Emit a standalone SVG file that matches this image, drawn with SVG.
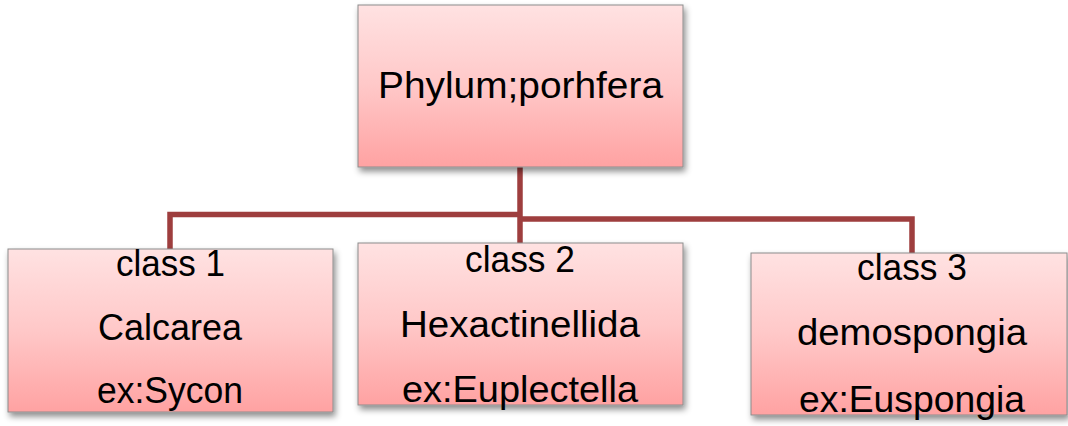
<svg xmlns="http://www.w3.org/2000/svg" width="1068" height="426" viewBox="0 0 1068 426">
  <defs>
    <linearGradient id="boxFill" x1="0" y1="0" x2="0" y2="1">
      <stop offset="0" stop-color="#ffe2e2"/>
      <stop offset="0.5" stop-color="#ffc8c8"/>
      <stop offset="1" stop-color="#ffa2a2"/>
    </linearGradient>
    <filter id="shadow" x="-10%" y="-10%" width="125%" height="130%">
      <feDropShadow dx="2" dy="4" stdDeviation="3" flood-color="#000" flood-opacity="0.45"/>
    </filter>
    <style>
      .box { fill: url(#boxFill); stroke: #8c8c8c; stroke-width: 1; filter: url(#shadow); }
      .label { font-family: "Liberation Sans", Arial, sans-serif; font-size: 36px; fill: #000; text-anchor: middle; }
      .link { fill: none; stroke: #9e3e3e; stroke-width: 5.5; stroke-linejoin: miter; }
    </style>
  </defs>
  <rect width="1068" height="426" fill="#fff"/>

  <!-- tree connectors -->
  <g id="connectors">
    <path class="link" d="M520 167 V243"/>
    <path class="link" d="M170 249 V214.5 H520"/>
    <path class="link" d="M520 219 H912 V253"/>
  </g>

  <!-- root: phylum -->
  <g id="phylum">
    <rect class="box" x="358" y="5" width="325" height="162"/>
    <text class="label" x="520.5" y="98" font-size="38" textLength="285" lengthAdjust="spacingAndGlyphs">Phylum;porhfera</text>
  </g>

  <!-- class 1 -->
  <g id="class1">
    <rect class="box" x="8" y="249" width="325" height="163"/>
    <text class="label" x="170.5" y="276" textLength="109" lengthAdjust="spacingAndGlyphs">class 1</text>
    <text class="label" x="170" y="340" textLength="144" lengthAdjust="spacingAndGlyphs">Calcarea</text>
    <text class="label" x="170" y="403" textLength="146" lengthAdjust="spacingAndGlyphs">ex:Sycon</text>
  </g>

  <!-- class 2 -->
  <g id="class2">
    <rect class="box" x="358" y="243" width="325" height="162"/>
    <text class="label" x="520" y="272" textLength="110" lengthAdjust="spacingAndGlyphs">class 2</text>
    <text class="label" x="520" y="337" textLength="240" lengthAdjust="spacingAndGlyphs">Hexactinellida</text>
    <text class="label" x="520" y="402" textLength="236" lengthAdjust="spacingAndGlyphs">ex:Euplectella</text>
  </g>

  <!-- class 3 -->
  <g id="class3">
    <rect class="box" x="751" y="253" width="316" height="162"/>
    <text class="label" x="912" y="280" textLength="110" lengthAdjust="spacingAndGlyphs">class 3</text>
    <text class="label" x="912" y="345" textLength="230" lengthAdjust="spacingAndGlyphs">demospongia</text>
    <text class="label" x="912" y="412" textLength="226" lengthAdjust="spacingAndGlyphs">ex:Euspongia</text>
  </g>
</svg>
